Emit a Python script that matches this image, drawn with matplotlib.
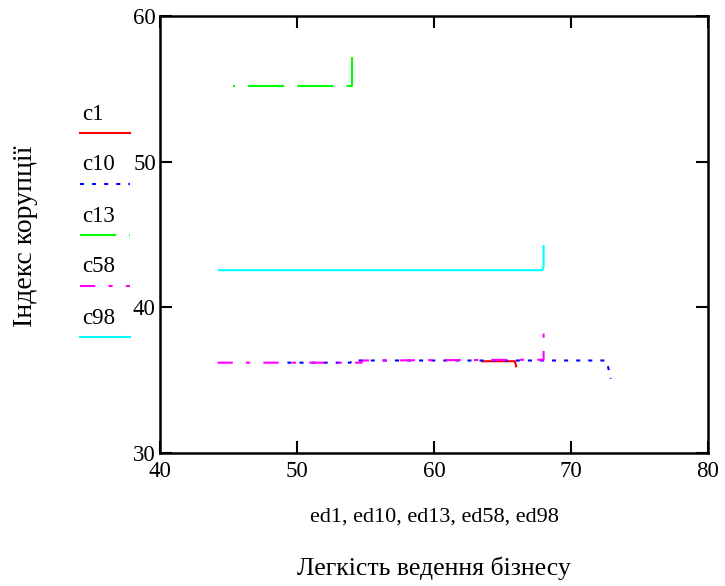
import numpy as np
import matplotlib
matplotlib.use("Agg")
import matplotlib.pyplot as plt

plt.rcParams['font.family'] = ['Liberation Serif', 'DejaVu Serif']
plt.rcParams['lines.scale_dashes'] = False

# data
ed1 = [63.5, 65.9, 66.0]
c1 = [36.3, 36.3, 35.95]

ed10 = [49.3, 53.9, 54.0, 72.6, 72.9]
c10 = [36.2, 36.2, 36.35, 36.35, 35.1]

ed13 = [45.3, 54.0, 54.0]
c13 = [55.2, 55.2, 57.2]

ed58 = [44.2, 54.7, 54.8, 66.5, 68.0, 68.0]
c58 = [36.2, 36.2, 36.35, 36.4, 36.4, 38.3]

ed98 = [44.3, 67.9, 68.0, 68.0]
c98 = [42.55, 42.55, 42.8, 44.2]

names = ['c1', 'c10', 'c13', 'c58', 'c98']
colors = ['#ff0000', '#0000ff', '#00ff00', '#ff00ff', '#00ffff']
styles = ['-', (0, (2.9, 5.8)), (24.5, (26, 9.4)), (0, (11, 9.5, 3, 9.5)), '-']
leg_styles = ['-', (0, (2.9, 5.8)), (0, (26, 9.4)), (0, (11, 9.5, 3, 9.5)), '-']

fig = plt.figure(figsize=(7.25, 5.86), dpi=100)
ax = fig.add_axes([160/725, 1-453/586, 548/725, 437/586])

series = [(ed1, c1), (ed10, c10), (ed13, c13), (ed58, c58), (ed98, c98)]
for (x, y), col, ls in zip(series, colors, styles):
    ax.plot(x, y, color=col, linestyle=ls, lw=1.5)

ax.set_xlim(40, 80)
ax.set_ylim(30, 60)
ax.set_xticks([40, 50, 60, 70, 80])
ax.set_yticks([30, 40, 50, 60])
ax.tick_params(direction='in', length=8.5, width=1.5, labelsize=16.5, top=True, right=True)
ax.tick_params(axis='x', pad=6)
ax.tick_params(axis='y', pad=3)
for s in ax.spines.values():
    s.set_linewidth(1.8)
ax.set_xlabel('ed1, ed10, ed13, ed58, ed98', fontsize=16)
ax.xaxis.set_label_coords(0.5, -(517 - 453) / 437)
ax.xaxis.label.set_va('center')

fig.text(434/725, 1-568/586, 'Легкість ведення бізнесу', fontsize=18.5, ha='center', va='center')
fig.text(26/725, 1-236/586, 'Індекс корупції', fontsize=20, ha='center', va='center', rotation=90)

# legend: name above a short line sample
leg = fig.add_axes([0, 0, 1, 1])
leg.set_xlim(0, 725)
leg.set_ylim(586, 0)
leg.axis('off')
for i, (nm, col, ls) in enumerate(zip(names, colors, leg_styles)):
    yy = 133 + i * 51
    leg.text(82, yy - 19, nm, fontsize=16.5, ha='left', va='center')
    leg.plot([80, 130], [yy, yy], color=col, linestyle=ls, lw=1.5)

fig.savefig('out.png', dpi=100)
